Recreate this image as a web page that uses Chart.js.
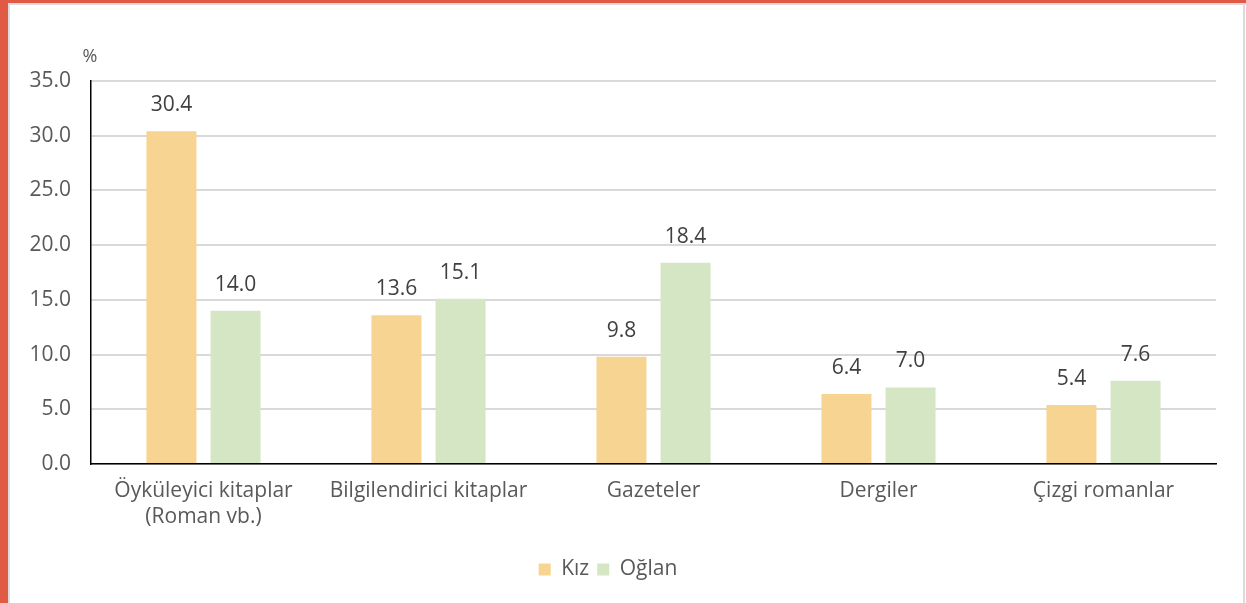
<!DOCTYPE html>
<html>
<head>
<meta charset="utf-8">
<script src="https://cdn.jsdelivr.net/npm/chart.js@4"></script>
<style>
  html, body { margin: 0; padding: 0; background: #fff; }
  #wrap { position: relative; width: 1246px; height: 603px; overflow: hidden; }
  #chart { position: absolute; left: 0; top: 0; }
  .edge { position: absolute; background: #E05A44; }
  .thin { position: absolute; background: #dcdcdc; }
</style>
</head>
<body>
<div id="wrap">
  <canvas id="chart" width="1246" height="603"></canvas>
  <div class="edge" style="left:0;top:0;width:8px;height:603px"></div>
  <div class="edge" style="left:0;top:0;width:1246px;height:3px"></div>
  <div class="thin" style="left:8px;top:3px;width:2px;height:600px"></div>
  <div class="thin" style="left:8px;top:3px;width:1238px;height:2px"></div>
  <div class="thin" style="left:1243px;top:3px;width:2px;height:600px"></div>
</div>
<script>
/* ------------------- DATA ------------------- */
const categories = [
  ["Öyküleyici kitaplar", "(Roman vb.)"],
  "Bilgilendirici kitaplar",
  "Gazeteler",
  "Dergiler",
  "Çizgi romanlar"
];
const kizValues = [30.4, 13.6, 9.8, 6.4, 5.4];
const oglanValues = [14.0, 15.1, 18.4, 7.0, 7.6];
const seriesNames = ["Kız", "Oğlan"];
const yTicks = [0, 5, 10, 15, 20, 25, 30, 35];

const FONT = "'Open Sans', sans-serif";
const TEXT = "#595959";

// values above bars + "%" unit label
const barLabels = {
  id: "barLabels",
  afterDatasetsDraw(chart) {
    const ctx = chart.ctx;
    ctx.save();
    ctx.fillStyle = "#404040";
    ctx.font = "21px " + FONT;
    ctx.textAlign = "center";
    ctx.textBaseline = "middle";
    chart.data.datasets.forEach((ds, i) => {
      chart.getDatasetMeta(i).data.forEach((bar, j) => {
        ctx.fillText(ds.data[j].toFixed(1), bar.x, bar.y - 26);
      });
    });
    ctx.fillStyle = TEXT;
    ctx.font = "18px " + FONT;
    ctx.fillText("%", chart.scales.y.left + 90, 57);
    ctx.restore();
  }
};

new Chart(document.getElementById("chart").getContext("2d"), {
  type: "bar",
  data: {
    labels: categories,
    datasets: [
      { label: seriesNames[0], data: kizValues, backgroundColor: "#F8D492" },
      { label: seriesNames[1], data: oglanValues, backgroundColor: "#D5E6C5" }
    ]
  },
  options: {
    responsive: false,
    animation: false,
    categoryPercentage: 0.57,
    barPercentage: 0.78,
    layout: { padding: { left: 0, right: 30, top: 81, bottom: 13 } },
    plugins: {
      legend: {
        position: "bottom",
        labels: {
          color: TEXT,
          font: { size: 21, family: FONT },
          boxWidth: 12,
          boxHeight: 12,
          padding: 8
        }
      },
      tooltip: { enabled: false }
    },
    scales: {
      x: {
        grid: { display: false, drawTicks: false },
        border: { color: "#000", width: 1.5 },
        ticks: { color: TEXT, font: { size: 21, family: FONT, lineHeight: 1.25 },
                 padding: 14, maxRotation: 0 },
        afterFit(s) { s.height = 87; }
      },
      y: {
        min: 0, max: 35,
        afterBuildTicks(s) { s.ticks = yTicks.map(v => ({ value: v })); },
        grid: { color: "#d9d9d9", lineWidth: 2, drawTicks: false },
        border: { color: "#000", width: 1.5 },
        ticks: {
          color: TEXT, font: { size: 21, family: FONT }, padding: 20,
          callback: v => v.toFixed(1)
        },
        afterFit(s) { s.width = 91; }
      }
    }
  },
  plugins: [barLabels]
});
</script>
</body>
</html>
